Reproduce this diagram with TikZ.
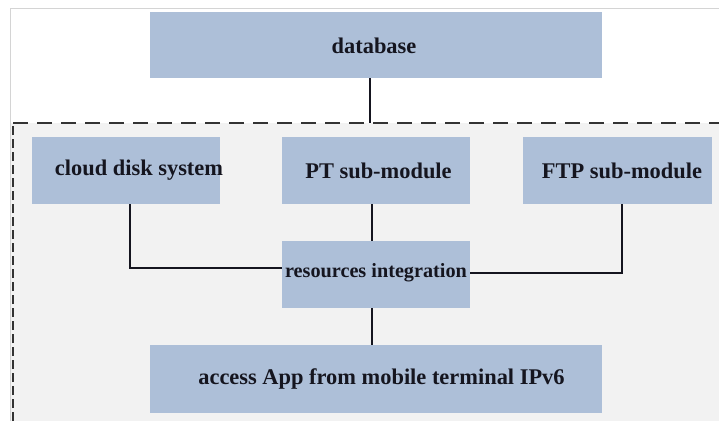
\documentclass[tikz,border=0pt]{standalone}
\usepackage{fontspec}
\setmainfont{Liberation Serif}
\definecolor{boxfill}{HTML}{ADBFD8}
\definecolor{panelgray}{HTML}{F2F2F2}
\definecolor{framegray}{HTML}{D4D4D4}
\definecolor{inkdark}{HTML}{15151F}
\tikzset{
  block/.style={rectangle, fill=boxfill, inner sep=0pt},
  blocklabel/.style={inner sep=0pt, text=inkdark,
    font=\fontsize{22.5}{26}\selectfont\bfseries},
  link/.style={draw=inkdark, line width=2.6bp},
  panelborder/.style={draw=black!80, line width=2bp}
}
\begin{document}
\begin{tikzpicture}[x=1bp,y=-1bp]
  \useasboundingbox (0,0) rectangle (719,421);
  \fill[white] (0,0) rectangle (719,421);
  % shaded panel holding the sub-modules
  \fill[panelgray] (11,123) rectangle (719,421);
  % thin outer frame
  \draw[framegray, line width=0.8bp] (10,421) -- (10,8) -- (719,8);
  % dashed panel border
  \draw[panelborder, dash pattern=on 15bp off 9bp] (13,123) -- (719,123);
  \draw[panelborder, dash pattern=on 9bp off 4bp] (12.5,421) -- (12.5,123);

  % blocks
  \node[block, minimum width=452bp, minimum height=66bp] (db) at (376,45) {};
  \node[block, minimum width=188bp, minimum height=67bp] (cloud) at (126,170.5) {};
  \node[block, minimum width=188bp, minimum height=67bp] (pt) at (376,170.5) {};
  \node[block, minimum width=189bp, minimum height=67bp] (ftp) at (617.5,170.5) {};
  \node[block, minimum width=188bp, minimum height=67bp] (res) at (376,274.5) {};
  \node[block, minimum width=452bp, minimum height=68bp] (acc) at (376,379) {};

  % block texts
  \node[blocklabel] (dbtext) at ([xshift=-2bp,yshift=-1bp]db.center) {database};
  \node[blocklabel] (cloudtext) at ([xshift=13bp]cloud.center) {cloud disk system};
  \node[blocklabel] (pttext) at ([xshift=2.5bp]pt.center) {PT sub-module};
  \node[blocklabel] (ftptext) at ([xshift=4.5bp]ftp.center) {FTP sub-module};
  \node[blocklabel, font=\fontsize{20.3}{23}\selectfont\bfseries] (restext)
    at ([yshift=1.5bp]res.center) {resources integration};
  \node[blocklabel] (acctext) at ([xshift=5.5bp]acc.center) {access App from mobile terminal IPv6};

  % connectors
  \coordinate (paneltop) at (370,123);
  \draw[link] (db.south -| paneltop) -- (paneltop);
  \draw[link] ([xshift=-4bp]pt.south) -- ([xshift=-4bp]res.north);
  \draw[link] ([xshift=4bp]cloud.south) |- ([yshift=6.5bp]res.west);
  \draw[link] ([xshift=4.5bp]ftp.south) |- ([yshift=1.5bp]res.east);
  \draw[link] ([xshift=-4bp]res.south) -- ([xshift=-4bp]acc.north);
\end{tikzpicture}
\end{document}
